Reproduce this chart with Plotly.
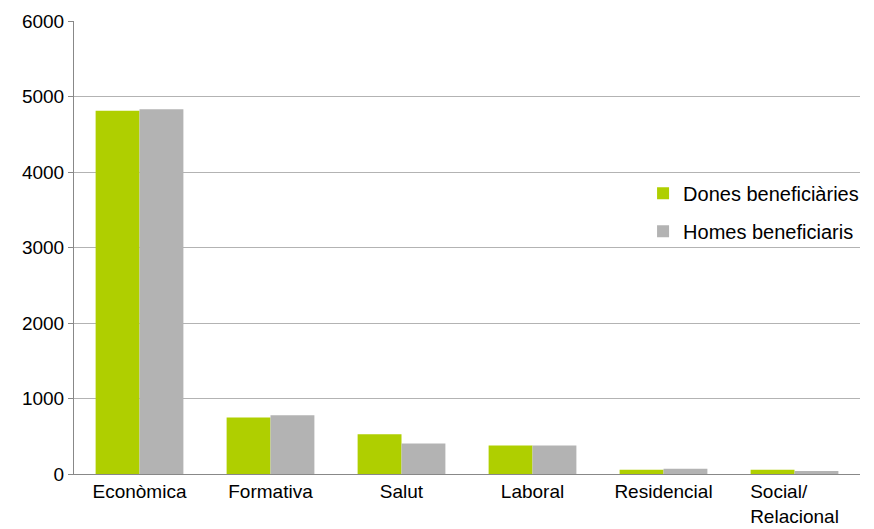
import plotly.graph_objects as go

categories = ["Econòmica", "Formativa", "Salut", "Laboral", "Residencial", "Social/" + "\u00a0" * 6 + "<br>Relacional"]
dones = [4810, 750, 525, 378, 55, 55]
homes = [4830, 778, 404, 378, 70, 40]
series_names = ["Dones beneficiàries", "Homes beneficiaris"]
y_ticks = [0, 1000, 2000, 3000, 4000, 5000, 6000]

FONT = "Liberation Sans, Arial, sans-serif"

fig = go.Figure()
fig.add_trace(go.Bar(x=categories, y=dones, name=series_names[0], marker_color="#AFCF00",
                     marker_line_width=0, legendgroup="a"))
fig.add_trace(go.Bar(x=categories, y=homes, name=series_names[1], marker_color="#B3B3B3",
                     marker_line_width=0, legendgroup="b"))

# page body has an 8px margin, so the figure is sized to fit the 874x529 window
fig.update_layout(
    width=866, height=521,
    margin=dict(l=66, r=14, t=13, b=55, autoexpand=False),
    paper_bgcolor="white", plot_bgcolor="white",
    barmode="group", bargap=0.33, bargroupgap=0,
    font=dict(family=FONT, size=19, color="#000000"),
    legend=dict(x=0.724, y=0.578, xanchor="left", yanchor="middle", traceorder="grouped",
                tracegroupgap=9, font=dict(size=20), bgcolor="rgba(0,0,0,0)", itemwidth=30),
    showlegend=True,
)
fig.update_xaxes(showline=True, linecolor="#888888", linewidth=1, ticks="", showgrid=False,
                 tickfont=dict(size=19), automargin=False)
fig.update_yaxes(range=[0, 6000], tickvals=y_ticks, showgrid=True, gridcolor="#B3B3B3", gridwidth=1,
                 showline=True, linecolor="#888888", linewidth=1, ticks="outside", ticklen=5,
                 tickcolor="#888888", zeroline=False, tickfont=dict(size=19), automargin=False)

fig.write_html("out.html")
